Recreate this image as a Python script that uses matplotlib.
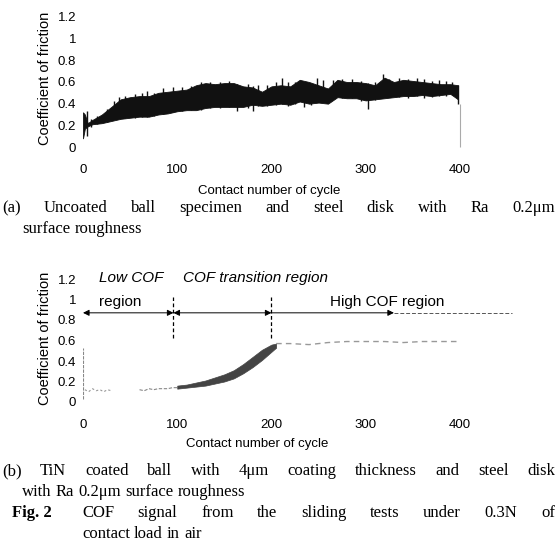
import matplotlib
matplotlib.use("Agg")
import matplotlib.pyplot as plt

W, H = 559, 560

# (a) uncoated ball: lower / upper edges of the COF trace
a_cycles = [0, 2, 5, 10, 20, 30, 40, 50, 60, 70, 80, 90, 100, 110, 120, 130, 140,
            150, 160, 170, 180, 190, 200, 210, 220, 230, 240, 250, 260, 270, 280,
            290, 300, 310, 320, 330, 340, 350, 360, 370, 380, 390, 398]
a_low = [0.08, 0.17, 0.19, 0.21, 0.22, 0.24, 0.26, 0.27, 0.28, 0.28, 0.30, 0.31,
         0.33, 0.34, 0.34, 0.36, 0.37, 0.37, 0.37, 0.37, 0.39, 0.38, 0.39, 0.40,
         0.39, 0.42, 0.40, 0.41, 0.40, 0.46, 0.45, 0.45, 0.43, 0.44, 0.45, 0.46,
         0.47, 0.47, 0.48, 0.47, 0.48, 0.49, 0.44]
a_up = [0.32, 0.30, 0.22, 0.25, 0.30, 0.37, 0.44, 0.46, 0.47, 0.47, 0.50, 0.51,
        0.52, 0.53, 0.57, 0.59, 0.58, 0.59, 0.59, 0.56, 0.55, 0.51, 0.56, 0.57,
        0.56, 0.62, 0.60, 0.57, 0.54, 0.62, 0.60, 0.60, 0.59, 0.57, 0.64, 0.60,
        0.62, 0.61, 0.60, 0.59, 0.58, 0.58, 0.57]
# individual excursions of the trace: (cycle, low, high)
a_spikes = [(4, 0.10, 0.33), (8, 0.18, 0.26), (15, 0.21, 0.29), (25, 0.23, 0.35),
            (33, 0.26, 0.42), (38, 0.27, 0.46), (45, 0.27, 0.47), (55, 0.27, 0.49),
            (63, 0.28, 0.50), (68, 0.28, 0.52), (75, 0.29, 0.50), (85, 0.30, 0.54),
            (95, 0.32, 0.55), (105, 0.33, 0.55), (115, 0.34, 0.56), (125, 0.34, 0.60),
            (135, 0.36, 0.60), (145, 0.36, 0.60), (155, 0.37, 0.61), (163, 0.33, 0.58),
            (175, 0.36, 0.58), (180, 0.33, 0.56), (186, 0.38, 0.57), (195, 0.38, 0.57),
            (205, 0.39, 0.60), (211, 0.40, 0.64), (218, 0.38, 0.60), (225, 0.40, 0.60),
            (235, 0.37, 0.58), (242, 0.39, 0.56), (248, 0.44, 0.64), (255, 0.42, 0.62),
            (265, 0.44, 0.62), (275, 0.45, 0.63), (285, 0.45, 0.63), (295, 0.42, 0.61),
            (303, 0.35, 0.59), (310, 0.43, 0.60), (318, 0.46, 0.67), (325, 0.46, 0.63),
            (335, 0.46, 0.64), (345, 0.45, 0.63), (355, 0.47, 0.64), (362, 0.45, 0.63),
            (370, 0.46, 0.61), (378, 0.47, 0.62), (385, 0.47, 0.61), (392, 0.48, 0.60),
            (398, 0.40, 0.57)]
a_end = (400, 0.0, 0.40)

# (b) TiN coated ball
b_spike = (0, 0.03, 0.53)
b_seg1_c = [2, 6, 10, 14, 18, 22, 26, 30]
b_seg1_v = [0.12, 0.10, 0.13, 0.11, 0.12, 0.10, 0.12, 0.11]
b_seg2_c = [60, 65, 70, 75, 80, 85, 90, 95, 100]
b_seg2_v = [0.12, 0.11, 0.13, 0.12, 0.13, 0.13, 0.13, 0.14, 0.14]
b_band_c = [100, 110, 120, 130, 140, 150, 160, 170, 180, 190, 200, 205]
b_band_low = [0.13, 0.14, 0.15, 0.16, 0.18, 0.20, 0.23, 0.28, 0.34, 0.41, 0.49, 0.53]
b_band_up = [0.16, 0.17, 0.19, 0.21, 0.24, 0.27, 0.31, 0.37, 0.44, 0.51, 0.56, 0.57]
b_seg4_c = [205, 220, 240, 260, 280, 300, 320, 340, 360, 380, 400]
b_seg4_v = [0.57, 0.57, 0.56, 0.58, 0.59, 0.59, 0.59, 0.58, 0.59, 0.59, 0.59]

x_ticks = [0, 100, 200, 300, 400]
y_ticks = [0, 0.2, 0.4, 0.6, 0.8, 1.0, 1.2]
y_ticklabels = ["0", "0.2", "0.4", "0.6", "0.8", "1", "1.2"]

sans = "Liberation Sans"
serif = "Liberation Serif"


def px_axes(left, top, right, bottom):
    return [left / W, 1 - bottom / H, (right - left) / W, (bottom - top) / H]


def style_axes(ax):
    ax.set_xlim(0, 450)
    ax.set_ylim(0, 1.2)
    for s in ax.spines.values():
        s.set_visible(False)
    ax.set_xticks(x_ticks)
    ax.set_xticklabels([str(t) for t in x_ticks], fontfamily=sans, fontsize=9.5)
    ax.set_yticks(y_ticks)
    ax.set_yticklabels(y_ticklabels, fontfamily=sans, fontsize=9.5)
    ax.tick_params(axis="x", length=0, pad=12)
    ax.tick_params(axis="y", length=0, pad=5)


fig = plt.figure(figsize=(W / 100, H / 100), dpi=100)

# ---- panel (a)
ax1 = fig.add_axes(px_axes(83, 17, 507, 147))
style_axes(ax1)
ax1.fill_between(a_cycles, a_low, a_up, color="#111111", lw=0.6,
                 edgecolor="#111111")
ax1.vlines([s[0] for s in a_spikes], [s[1] for s in a_spikes],
           [s[2] for s in a_spikes], color="#111111", lw=1.0)
ax1.vlines(a_end[0], a_end[1], a_end[2], color="#aaaaaa", lw=0.8, clip_on=False)
ax1.set_xlabel("Contact number of cycle", fontfamily=sans, fontsize=9.5)
ax1.xaxis.set_label_coords(0.44, -0.29)

# ---- panel (b)
ax2 = fig.add_axes(px_axes(83, 279, 507, 402))
style_axes(ax2)
ax2.vlines(b_spike[0], b_spike[1], b_spike[2], color="#888888", lw=0.8,
           linestyles=(0, (3, 1)))
ax2.plot(b_seg1_c, b_seg1_v, color="#999999", lw=0.8, ls=(0, (2, 2)))
ax2.plot(b_seg2_c, b_seg2_v, color="#888888", lw=0.8, ls=(0, (3, 1.5)))
ax2.fill_between(b_band_c, b_band_low, b_band_up, color="#444444", lw=0.5,
                 edgecolor="#444444")
ax2.plot(b_seg4_c, b_seg4_v, color="#999999", lw=1.0, ls=(0, (4, 3)))
ax2.set_xlabel("Contact number of cycle", fontfamily=sans, fontsize=9.5)
ax2.xaxis.set_label_coords(0.41, -0.29)

# region markers
arrow_y = 0.87
for c in (96, 200):
    ax2.plot([c, c], [0.62, 1.02], color="black", lw=0.9, ls=(0, (3, 2)))
arr = dict(arrowstyle="<|-|>", color="black", lw=0.7, mutation_scale=9,
           shrinkA=0, shrinkB=0)
ax2.annotate("", xy=(0, arrow_y), xytext=(96, arrow_y), arrowprops=arr)
ax2.annotate("", xy=(96, arrow_y), xytext=(200, arrow_y), arrowprops=arr)
ax2.annotate("", xy=(200, arrow_y), xytext=(330, arrow_y),
             arrowprops=dict(arrowstyle="<|-", color="black", lw=0.7,
                             mutation_scale=9, shrinkA=0, shrinkB=0))
ax2.plot([330, 455], [arrow_y, arrow_y], color="#555555", lw=0.7, ls=(0, (4, 2)),
         clip_on=False)

ax2.text(17, 1.21, "Low COF", fontfamily=sans, fontsize=11, style="italic",
         va="center")
ax2.text(17, 0.98, "region", fontfamily=sans, fontsize=11, va="center")
ax2.text(106, 1.21, "COF transition region", fontfamily=sans, fontsize=11,
         style="italic", va="center")
ax2.text(262, 0.98, "High COF region", fontfamily=sans, fontsize=11, va="center")

# y-axis titles
for yc in (78, 338):
    fig.text(45 / W, 1 - yc / H, "Coefficient of friction", rotation=90,
             ha="center", va="center", fontfamily=sans, fontsize=10.5)

# captions
renderer = fig.canvas.get_renderer()
CAP = 12


def caption_line(words, x0, y, x1=None, **kw):
    """Place words on a baseline; spread them to x1 when given."""
    arts = [fig.text(0, 1 - y / H, w, va="baseline", fontfamily=serif,
                     fontsize=CAP, **kw) for w in words]
    widths = [a.get_window_extent(renderer).width for a in arts]
    if x1 is None or len(words) < 2:
        gap = renderer.points_to_pixels(CAP) * 0.25
    else:
        gap = (x1 - x0 - sum(widths)) / (len(words) - 1)
    x = x0
    for a, w in zip(arts, widths):
        a.set_x(x / W)
        x += w + gap
    return arts


caption_line("(a) Uncoated ball specimen and steel disk with Ra 0.2μm".split(), 2, 212, 555)
caption_line("surface roughness".split(), 22, 233)
caption_line("(b) TiN coated ball with 4μm coating thickness and steel disk".split(), 2, 475, 555)
caption_line("with Ra 0.2μm surface roughness".split(), 22, 496)
fig.text(12 / W, 1 - 517 / H, "Fig. 2", va="baseline", fontfamily=serif,
         fontsize=CAP, fontweight="bold")
caption_line("COF signal from the sliding tests under 0.3N of".split(), 82, 517, 555)
caption_line("contact load in air".split(), 82, 538)

fig.savefig("out.png", dpi=100)
